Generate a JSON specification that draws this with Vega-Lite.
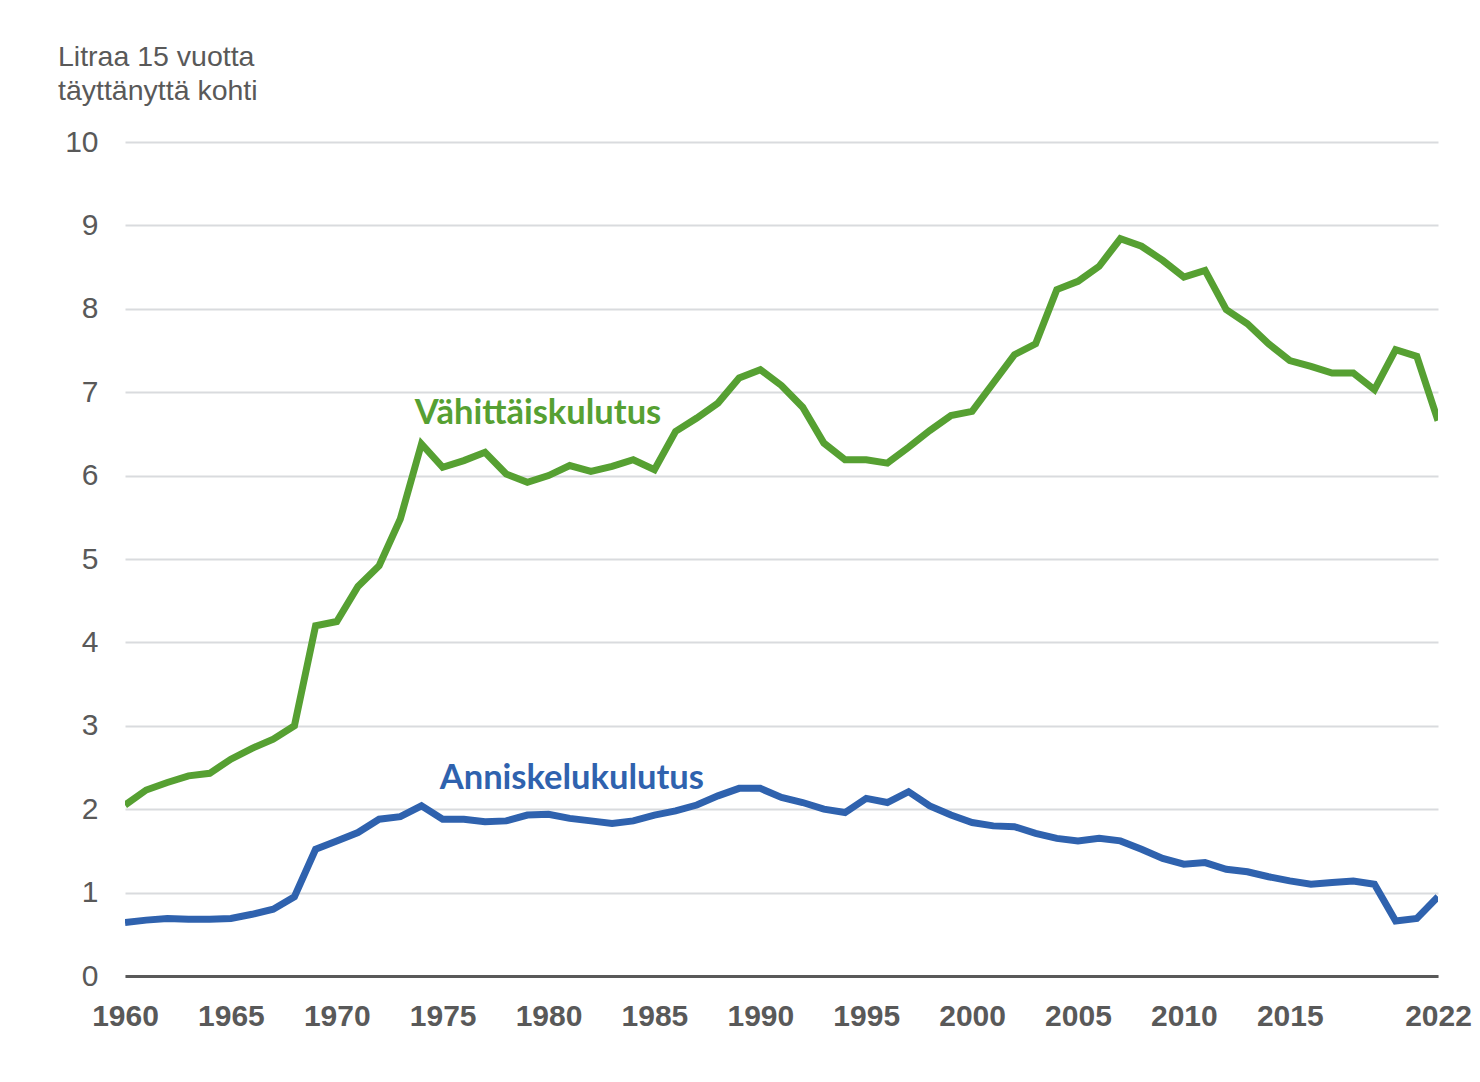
{
  "$schema": "https://vega.github.io/schema/vega-lite/v6.json",
  "autosize": "none",
  "width": 1313,
  "height": 834,
  "padding": {"left": 125, "top": 142, "right": 42, "bottom": 106},
  "background": "white",
  "config": {"view": {"stroke": null}},
  "title": {
    "text": ["Litraa 15 vuotta", "täyttänyttä kohti"],
    "anchor": "start",
    "frame": "group",
    "dx": -67,
    "offset": 22,
    "font": "Liberation Sans",
    "fontSize": 28.5,
    "fontWeight": "normal",
    "lineHeight": 34,
    "color": "#595959"
  },
  "datasets": {
    "series": [
      {"year": 1960, "series": "Vähittäiskulutus", "value": 2.05},
      {"year": 1961, "series": "Vähittäiskulutus", "value": 2.23},
      {"year": 1962, "series": "Vähittäiskulutus", "value": 2.32},
      {"year": 1963, "series": "Vähittäiskulutus", "value": 2.40},
      {"year": 1964, "series": "Vähittäiskulutus", "value": 2.43},
      {"year": 1965, "series": "Vähittäiskulutus", "value": 2.60},
      {"year": 1966, "series": "Vähittäiskulutus", "value": 2.73},
      {"year": 1967, "series": "Vähittäiskulutus", "value": 2.84},
      {"year": 1968, "series": "Vähittäiskulutus", "value": 3.00},
      {"year": 1969, "series": "Vähittäiskulutus", "value": 4.20},
      {"year": 1970, "series": "Vähittäiskulutus", "value": 4.25},
      {"year": 1971, "series": "Vähittäiskulutus", "value": 4.67},
      {"year": 1972, "series": "Vähittäiskulutus", "value": 4.92},
      {"year": 1973, "series": "Vähittäiskulutus", "value": 5.48},
      {"year": 1974, "series": "Vähittäiskulutus", "value": 6.38},
      {"year": 1975, "series": "Vähittäiskulutus", "value": 6.10},
      {"year": 1976, "series": "Vähittäiskulutus", "value": 6.18},
      {"year": 1977, "series": "Vähittäiskulutus", "value": 6.28},
      {"year": 1978, "series": "Vähittäiskulutus", "value": 6.02},
      {"year": 1979, "series": "Vähittäiskulutus", "value": 5.92},
      {"year": 1980, "series": "Vähittäiskulutus", "value": 6.00},
      {"year": 1981, "series": "Vähittäiskulutus", "value": 6.12},
      {"year": 1982, "series": "Vähittäiskulutus", "value": 6.05},
      {"year": 1983, "series": "Vähittäiskulutus", "value": 6.11},
      {"year": 1984, "series": "Vähittäiskulutus", "value": 6.19},
      {"year": 1985, "series": "Vähittäiskulutus", "value": 6.07},
      {"year": 1986, "series": "Vähittäiskulutus", "value": 6.53},
      {"year": 1987, "series": "Vähittäiskulutus", "value": 6.69},
      {"year": 1988, "series": "Vähittäiskulutus", "value": 6.87},
      {"year": 1989, "series": "Vähittäiskulutus", "value": 7.17},
      {"year": 1990, "series": "Vähittäiskulutus", "value": 7.27},
      {"year": 1991, "series": "Vähittäiskulutus", "value": 7.08},
      {"year": 1992, "series": "Vähittäiskulutus", "value": 6.82},
      {"year": 1993, "series": "Vähittäiskulutus", "value": 6.39},
      {"year": 1994, "series": "Vähittäiskulutus", "value": 6.19},
      {"year": 1995, "series": "Vähittäiskulutus", "value": 6.19},
      {"year": 1996, "series": "Vähittäiskulutus", "value": 6.15},
      {"year": 1997, "series": "Vähittäiskulutus", "value": 6.34},
      {"year": 1998, "series": "Vähittäiskulutus", "value": 6.54},
      {"year": 1999, "series": "Vähittäiskulutus", "value": 6.72},
      {"year": 2000, "series": "Vähittäiskulutus", "value": 6.77},
      {"year": 2001, "series": "Vähittäiskulutus", "value": 7.11},
      {"year": 2002, "series": "Vähittäiskulutus", "value": 7.45},
      {"year": 2003, "series": "Vähittäiskulutus", "value": 7.58},
      {"year": 2004, "series": "Vähittäiskulutus", "value": 8.23},
      {"year": 2005, "series": "Vähittäiskulutus", "value": 8.33},
      {"year": 2006, "series": "Vähittäiskulutus", "value": 8.51},
      {"year": 2007, "series": "Vähittäiskulutus", "value": 8.84},
      {"year": 2008, "series": "Vähittäiskulutus", "value": 8.75},
      {"year": 2009, "series": "Vähittäiskulutus", "value": 8.58},
      {"year": 2010, "series": "Vähittäiskulutus", "value": 8.38},
      {"year": 2011, "series": "Vähittäiskulutus", "value": 8.46},
      {"year": 2012, "series": "Vähittäiskulutus", "value": 7.99},
      {"year": 2013, "series": "Vähittäiskulutus", "value": 7.82},
      {"year": 2014, "series": "Vähittäiskulutus", "value": 7.58},
      {"year": 2015, "series": "Vähittäiskulutus", "value": 7.38},
      {"year": 2016, "series": "Vähittäiskulutus", "value": 7.31},
      {"year": 2017, "series": "Vähittäiskulutus", "value": 7.23},
      {"year": 2018, "series": "Vähittäiskulutus", "value": 7.23},
      {"year": 2019, "series": "Vähittäiskulutus", "value": 7.03},
      {"year": 2020, "series": "Vähittäiskulutus", "value": 7.51},
      {"year": 2021, "series": "Vähittäiskulutus", "value": 7.43},
      {"year": 2022, "series": "Vähittäiskulutus", "value": 6.66},
      {"year": 1960, "series": "Anniskelukulutus", "value": 0.64},
      {"year": 1961, "series": "Anniskelukulutus", "value": 0.67},
      {"year": 1962, "series": "Anniskelukulutus", "value": 0.69},
      {"year": 1963, "series": "Anniskelukulutus", "value": 0.68},
      {"year": 1964, "series": "Anniskelukulutus", "value": 0.68},
      {"year": 1965, "series": "Anniskelukulutus", "value": 0.69},
      {"year": 1966, "series": "Anniskelukulutus", "value": 0.74},
      {"year": 1967, "series": "Anniskelukulutus", "value": 0.80},
      {"year": 1968, "series": "Anniskelukulutus", "value": 0.95},
      {"year": 1969, "series": "Anniskelukulutus", "value": 1.52},
      {"year": 1970, "series": "Anniskelukulutus", "value": 1.62},
      {"year": 1971, "series": "Anniskelukulutus", "value": 1.72},
      {"year": 1972, "series": "Anniskelukulutus", "value": 1.88},
      {"year": 1973, "series": "Anniskelukulutus", "value": 1.91},
      {"year": 1974, "series": "Anniskelukulutus", "value": 2.04},
      {"year": 1975, "series": "Anniskelukulutus", "value": 1.88},
      {"year": 1976, "series": "Anniskelukulutus", "value": 1.88},
      {"year": 1977, "series": "Anniskelukulutus", "value": 1.85},
      {"year": 1978, "series": "Anniskelukulutus", "value": 1.86},
      {"year": 1979, "series": "Anniskelukulutus", "value": 1.93},
      {"year": 1980, "series": "Anniskelukulutus", "value": 1.94},
      {"year": 1981, "series": "Anniskelukulutus", "value": 1.89},
      {"year": 1982, "series": "Anniskelukulutus", "value": 1.86},
      {"year": 1983, "series": "Anniskelukulutus", "value": 1.83},
      {"year": 1984, "series": "Anniskelukulutus", "value": 1.86},
      {"year": 1985, "series": "Anniskelukulutus", "value": 1.93},
      {"year": 1986, "series": "Anniskelukulutus", "value": 1.98},
      {"year": 1987, "series": "Anniskelukulutus", "value": 2.05},
      {"year": 1988, "series": "Anniskelukulutus", "value": 2.16},
      {"year": 1989, "series": "Anniskelukulutus", "value": 2.25},
      {"year": 1990, "series": "Anniskelukulutus", "value": 2.25},
      {"year": 1991, "series": "Anniskelukulutus", "value": 2.14},
      {"year": 1992, "series": "Anniskelukulutus", "value": 2.08},
      {"year": 1993, "series": "Anniskelukulutus", "value": 2.00},
      {"year": 1994, "series": "Anniskelukulutus", "value": 1.96},
      {"year": 1995, "series": "Anniskelukulutus", "value": 2.13},
      {"year": 1996, "series": "Anniskelukulutus", "value": 2.08},
      {"year": 1997, "series": "Anniskelukulutus", "value": 2.21},
      {"year": 1998, "series": "Anniskelukulutus", "value": 2.04},
      {"year": 1999, "series": "Anniskelukulutus", "value": 1.93},
      {"year": 2000, "series": "Anniskelukulutus", "value": 1.84},
      {"year": 2001, "series": "Anniskelukulutus", "value": 1.80},
      {"year": 2002, "series": "Anniskelukulutus", "value": 1.79},
      {"year": 2003, "series": "Anniskelukulutus", "value": 1.71},
      {"year": 2004, "series": "Anniskelukulutus", "value": 1.65},
      {"year": 2005, "series": "Anniskelukulutus", "value": 1.62},
      {"year": 2006, "series": "Anniskelukulutus", "value": 1.65},
      {"year": 2007, "series": "Anniskelukulutus", "value": 1.62},
      {"year": 2008, "series": "Anniskelukulutus", "value": 1.52},
      {"year": 2009, "series": "Anniskelukulutus", "value": 1.41},
      {"year": 2010, "series": "Anniskelukulutus", "value": 1.34},
      {"year": 2011, "series": "Anniskelukulutus", "value": 1.36},
      {"year": 2012, "series": "Anniskelukulutus", "value": 1.28},
      {"year": 2013, "series": "Anniskelukulutus", "value": 1.25},
      {"year": 2014, "series": "Anniskelukulutus", "value": 1.19},
      {"year": 2015, "series": "Anniskelukulutus", "value": 1.14},
      {"year": 2016, "series": "Anniskelukulutus", "value": 1.10},
      {"year": 2017, "series": "Anniskelukulutus", "value": 1.12},
      {"year": 2018, "series": "Anniskelukulutus", "value": 1.14},
      {"year": 2019, "series": "Anniskelukulutus", "value": 1.10},
      {"year": 2020, "series": "Anniskelukulutus", "value": 0.66},
      {"year": 2021, "series": "Anniskelukulutus", "value": 0.69},
      {"year": 2022, "series": "Anniskelukulutus", "value": 0.95}
    ],
    "labels": [
      {"year": 1979.5, "series": "Vähittäiskulutus", "value": 6.74},
      {"year": 1981.1, "series": "Anniskelukulutus", "value": 2.36}
    ]
  },
  "encoding": {
    "x": {
      "field": "year",
      "type": "quantitative",
      "scale": {"domain": [1960, 2022], "nice": false, "zero": false},
      "axis": {
        "title": null,
        "values": [1960, 1965, 1970, 1975, 1980, 1985, 1990, 1995, 2000, 2005, 2010, 2015, 2022],
        "format": "d",
        "grid": false,
        "ticks": false,
        "domain": true,
        "domainColor": "#595959",
        "domainWidth": 3,
        "labelFont": "Liberation Sans",
        "labelFontSize": 30,
        "labelFontWeight": "bold",
        "labelColor": "#595959",
        "labelPadding": 25,
        "labelFlush": false,
        "labelOverlap": false
      }
    },
    "y": {
      "field": "value",
      "type": "quantitative",
      "scale": {"domain": [0, 10], "nice": false},
      "axis": {
        "title": null,
        "values": [0, 1, 2, 3, 4, 5, 6, 7, 8, 9, 10],
        "grid": true,
        "gridColor": "#d9dbde",
        "gridWidth": 2,
        "ticks": false,
        "domain": false,
        "labelFont": "Liberation Sans",
        "labelFontSize": 30,
        "labelColor": "#595959",
        "labelPadding": 27
      }
    },
    "color": {
      "field": "series",
      "type": "nominal",
      "scale": {"domain": ["Vähittäiskulutus", "Anniskelukulutus"], "range": ["#56a032", "#2f62ae"]},
      "legend": null
    }
  },
  "layer": [
    {
      "data": {"name": "series"},
      "mark": {"type": "line", "strokeWidth": 7, "strokeJoin": "miter", "clip": true}
    },
    {
      "data": {"name": "labels"},
      "mark": {"type": "text", "font": "Lato", "fontSize": 34.5, "fontWeight": "bold", "align": "center", "baseline": "middle"},
      "encoding": {"text": {"field": "series"}}
    }
  ]
}
